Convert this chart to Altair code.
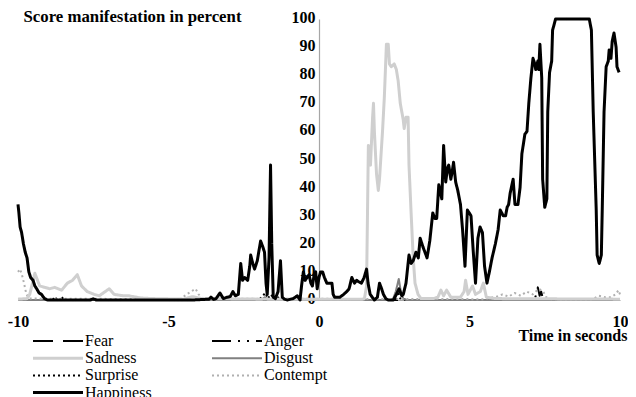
import altair as alt
import pandas as pd

# legend is filled column by column: first column, then second column
series_names = ["Fear", "Sadness", "Surprise", "Happiness", "Anger", "Disgust", "Contempt"]
series_colors = ["#000000", "#cfcfcf", "#000000", "#000000", "#000000", "#808080", "#b0b0b0"]
series_dashes = [[20, 10], [1, 0], [2, 3], [1, 0], [19, 7, 2, 7, 2, 7], [1, 0], [2, 3]]
series_widths = [2, 3, 2, 3, 2, 2, 2]
draw_order = ["Fear", "Anger", "Surprise", "Disgust", "Contempt", "Sadness", "Happiness"]

x_ticks = [-10, -5, 0, 5, 10]
y_ticks = [0, 10, 20, 30, 40, 50, 60, 70, 80, 90, 100]

fear = [(-10.0, 0), (10.0, 0)]

anger = [(-10.0, 0), (7.15, 0), (7.22, 2), (7.27, 4.5), (7.33, 1.5), (7.38, 3),
         (7.45, 0), (10.0, 0)]

surprise = [(-10.0, 0), (-8.85, 0), (-8.78, 1.2), (-8.7, 0), (-8.6, 0), (-8.55, 1.2),
            (-8.48, 0), (-2.0, 0), (-1.78, 2.5), (-1.7, 0.5), (-1.6, 2), (-1.5, 0.5),
            (-1.4, 1.5), (-1.3, 0), (2.55, 0), (2.62, 3), (2.7, 0.5), (2.78, 2),
            (2.85, 0), (10.0, 0)]

disgust = [(-10.0, 0), (-1.9, 0), (-1.8, 1), (-1.7, 0), (2.45, 0), (2.55, 3),
           (2.65, 7.5), (2.72, 3), (2.8, 0.5), (2.9, 0), (10.0, 0)]

contempt = [(-10.0, 10), (-9.93, 11), (-9.87, 9), (-9.80, 6), (-9.72, 2), (-9.62, 0.5),
            (-4.6, 0.3), (-4.4, 2), (-4.25, 3), (-4.1, 4), (-4.0, 2), (-3.85, 0.5),
            (5.5, 0.3), (5.9, 1.2), (6.1, 2), (6.3, 1.2), (6.5, 2.5), (6.7, 1.5),
            (6.9, 3), (7.1, 2), (7.3, 4), (7.45, 3), (7.55, 1), (7.7, 0.3),
            (9.1, 0.3), (9.3, 1.5), (9.5, 1), (9.7, 1), (9.85, 2), (9.95, 3.5), (10.0, 2)]

sadness = [(-10.0, 0.3), (-9.7, 0.5), (-9.61, 2), (-9.44, 9.5), (-9.28, 5), (-9.11, 4.5),
           (-8.95, 4), (-8.78, 4.5), (-8.55, 3.5), (-8.36, 6), (-8.19, 7), (-8.03, 9),
           (-7.89, 5), (-7.70, 3), (-7.47, 2), (-7.30, 1.5), (-6.97, 4), (-6.81, 2),
           (-6.5, 1.5), (-6.32, 1.5), (-5.92, 0.7), (-5.5, 0.5), (-4.5, 0.3),
           (-4.2, 1.2), (-3.9, 0.5), (-2.0, 0.3), (1.45, 0.3), (1.51, 0.5), (1.58, 5),
           (1.64, 55), (1.71, 48), (1.78, 65), (1.81, 70), (1.84, 60), (1.91, 45),
           (1.97, 39), (2.01, 43), (2.11, 60), (2.17, 72), (2.24, 91), (2.30, 91),
           (2.34, 84), (2.40, 83), (2.50, 84), (2.57, 82), (2.63, 78), (2.70, 70),
           (2.80, 64), (2.83, 61), (2.89, 65), (2.96, 65), (2.99, 48), (3.06, 31),
           (3.13, 15), (3.19, 6), (3.29, 2), (3.39, 0.5), (3.8, 0.5), (3.95, 1),
           (4.05, 3.5), (4.14, 1.5), (4.24, 3.5), (4.38, 1), (4.70, 1), (4.82, 3),
           (4.87, 7), (4.95, 2), (5.10, 5), (5.20, 2), (5.36, 3), (5.46, 6), (5.56, 1),
           (5.86, 0.5), (10.0, 0.3)]

happiness = [(-10.0, 34), (-9.97, 31), (-9.93, 26), (-9.88, 24), (-9.82, 20), (-9.76, 17),
             (-9.70, 15), (-9.64, 10), (-9.58, 8), (-9.50, 7), (-9.44, 5), (-9.38, 4),
             (-9.30, 2.5), (-9.22, 2), (-9.12, 0.5), (-9.02, 0), (-8.0, 0), (-7.6, 0),
             (-7.5, 0.4), (-7.4, 0), (-4.2, 0), (-3.65, 0.3), (-3.59, 1), (-3.50, 0.2),
             (-3.42, 0.5), (-3.29, 2.5), (-3.18, 0.5), (-3.05, 1), (-2.95, 1.2),
             (-2.86, 3), (-2.78, 1.5), (-2.68, 2), (-2.60, 13), (-2.54, 7), (-2.47, 8),
             (-2.37, 7), (-2.30, 12), (-2.27, 16), (-2.20, 13), (-2.14, 11), (-2.05, 14),
             (-1.94, 21), (-1.87, 19), (-1.81, 17), (-1.76, 6), (-1.72, 2), (-1.66, 15),
             (-1.61, 48), (-1.57, 20), (-1.52, 1), (-1.45, 0.5), (-1.36, 3), (-1.28, 14),
             (-1.22, 1), (-1.15, 0.3), (-1.05, 0), (-0.86, 0.5), (-0.72, 1.5), (-0.63, 0),
             (-0.58, 5), (-0.52, 10), (-0.46, 7), (-0.40, 8), (-0.33, 9), (-0.27, 6),
             (-0.22, 5), (-0.16, 9), (-0.11, 10), (-0.06, 4), (0.0, 8), (0.05, 10),
             (0.12, 10), (0.18, 8), (0.26, 6), (0.35, 6), (0.43, 6), (0.47, 2), (0.52, 1),
             (0.69, 1), (0.82, 2), (0.92, 3), (1.00, 4), (1.09, 8), (1.18, 6), (1.25, 7),
             (1.32, 6.5), (1.41, 6), (1.50, 8), (1.58, 11), (1.63, 6), (1.70, 2),
             (1.84, 0), (1.94, 1), (2.01, 6), (2.08, 4), (2.14, 2), (2.22, 0.5), (2.30, 0),
             (2.47, 0), (2.57, 2), (2.66, 4), (2.75, 1.5), (2.80, 2), (2.89, 6), (2.99, 16),
             (3.06, 13), (3.13, 14), (3.22, 17), (3.30, 15), (3.36, 22), (3.45, 19),
             (3.52, 17), (3.59, 15), (3.68, 21), (3.78, 31), (3.85, 29), (3.91, 29),
             (3.98, 41), (4.04, 38), (4.08, 36), (4.14, 55), (4.21, 42), (4.27, 47),
             (4.31, 48), (4.38, 43), (4.43, 46), (4.47, 49), (4.54, 42), (4.61, 39),
             (4.70, 34), (4.77, 25), (4.85, 12), (4.93, 32), (5.05, 30), (5.12, 18),
             (5.20, 6), (5.28, 22), (5.35, 26), (5.43, 24), (5.50, 12), (5.58, 6),
             (5.66, 10), (5.75, 15), (5.86, 20), (5.95, 25), (6.02, 32), (6.12, 30),
             (6.20, 30), (6.25, 33), (6.30, 34), (6.35, 38), (6.45, 43), (6.51, 34),
             (6.61, 34), (6.68, 40), (6.74, 52), (6.84, 59), (6.91, 60), (6.97, 70),
             (7.04, 79), (7.11, 86), (7.17, 84), (7.20, 82), (7.27, 85), (7.30, 82),
             (7.34, 91), (7.40, 79), (7.43, 43), (7.50, 33), (7.57, 36), (7.60, 67),
             (7.66, 81), (7.73, 85), (7.76, 96), (7.86, 100), (8.98, 100), (9.05, 96),
             (9.11, 67), (9.21, 32), (9.24, 16), (9.31, 13), (9.38, 16), (9.41, 32),
             (9.47, 67), (9.54, 83), (9.61, 85), (9.64, 89), (9.70, 86), (9.74, 92),
             (9.80, 95), (9.87, 90), (9.90, 83), (9.97, 81)]

series_points = {
    "Fear": fear, "Anger": anger, "Surprise": surprise, "Disgust": disgust,
    "Contempt": contempt, "Sadness": sadness, "Happiness": happiness,
}

rows = []
for name in draw_order:
    for i, (t, v) in enumerate(series_points[name]):
        rows.append({"emotion": name, "t": t, "v": v, "i": i})
df = pd.DataFrame(rows)

FONT = "Liberation Serif"
PLOT_W = 602
PLOT_H = 281

legend_opts = dict(orient="none", legendX=32, legendY=314, columns=2,
                   symbolType="M-5,0H5", symbolSize=100, symbolStrokeWidth=2.5,
                   labelFont=FONT, labelFontSize=16, labelColor="black",
                   labelOffset=19, columnPadding=56, rowPadding=1.2,
                   title=None, padding=0, labelLimit=300)

chart = alt.Chart(df).mark_line(strokeJoin="round", strokeCap="butt").encode(
    x=alt.X("t:Q", scale=alt.Scale(domain=[-10, 10], nice=False, zero=False),
            axis=alt.Axis(values=x_ticks, labelExpr="'' + datum.value", ticks=False,
                          grid=False, domainColor="#a6a6a6", domainWidth=1,
                          labelFont=FONT, labelFontWeight="bold", labelFontSize=16,
                          labelColor="black", labelPadding=13, labelFlush=False,
                          title="Time in seconds", titleFont=FONT, titleFontSize=16,
                          titleFontWeight="bold", titleColor="black",
                          titleX=609, titleY=35, titleAlign="right",
                          titleBaseline="middle", titleAnchor="start")),
    y=alt.Y("v:Q", scale=alt.Scale(domain=[0, 100], nice=False),
            axis=alt.Axis(values=y_ticks, labelExpr="'' + datum.value", ticks=False,
                          grid=False, domainColor="#a6a6a6", domainWidth=1.2,
                          offset=-PLOT_W / 2, labelFont=FONT, labelFontWeight="bold",
                          labelFontSize=16, labelColor="black", labelPadding=4,
                          labelBaseline="middle", labelOffset=-1.5, labelFlush=False,
                          title="Score manifestation in percent", titleFont=FONT,
                          titleFontSize=16.8, titleFontWeight="bold", titleColor="black",
                          titleAngle=0, titleX=-296, titleY=-3, titleAlign="left",
                          titleBaseline="middle", titleAnchor="start")),
    color=alt.Color("emotion:N", scale=alt.Scale(domain=series_names, range=series_colors),
                    legend=alt.Legend(**legend_opts)),
    strokeDash=alt.StrokeDash("emotion:N",
                              scale=alt.Scale(domain=series_names, range=series_dashes),
                              legend=alt.Legend(**legend_opts)),
    strokeWidth=alt.StrokeWidth("emotion:N",
                                scale=alt.Scale(type="ordinal", domain=series_names,
                                                range=series_widths),
                                legend=None),
    order=alt.Order("i:Q"),
    detail="emotion:N",
).properties(
    width=PLOT_W,
    height=PLOT_H,
    autosize=alt.AutoSizeParams(type="none"),
    padding={"left": 10, "top": 11, "right": 8, "bottom": 100},
    background="white",
).configure_view(stroke=None)

chart.save("out.html", embed_options={"renderer": "svg", "actions": False})
